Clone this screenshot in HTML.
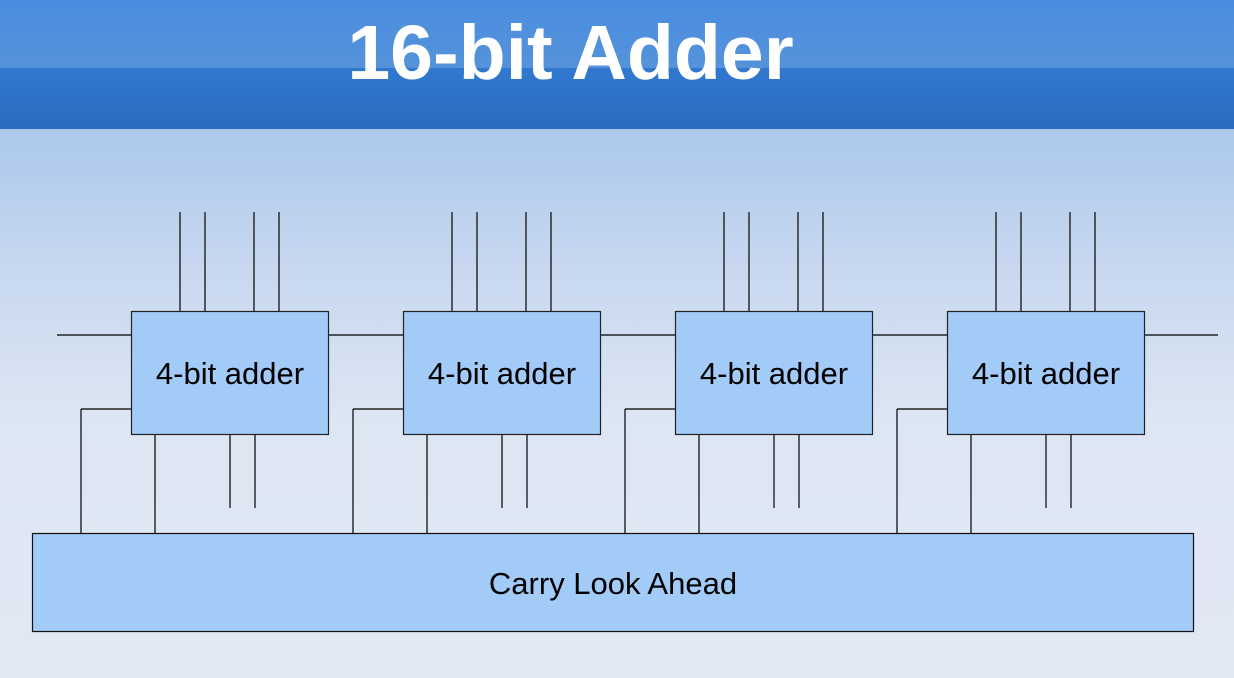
<!DOCTYPE html>
<html><head><meta charset="utf-8"><style>
html,body{margin:0;padding:0;width:1234px;height:678px;overflow:hidden}
body{background:linear-gradient(180deg,#abc8ec 129px,#c6d7ef 260px,#dde6f3 420px,#e1e8f4 678px);font-family:"Liberation Sans",sans-serif}
#hdr{position:absolute;left:0;top:0;width:1234px;height:129px}
#top{position:absolute;left:0;top:0;width:1234px;height:68px;background:linear-gradient(180deg,#4a8de0,#5592da)}
#bot{position:absolute;left:0;top:68px;width:1234px;height:61px;background:linear-gradient(180deg,#3079cf,#2a6bc0)}
#title{position:absolute;left:0;top:6px;width:1141px;text-align:center;color:#fff;font-weight:bold;font-size:77px;line-height:94px}
svg{position:absolute;left:0;top:0}
</style></head><body>
<div id="hdr">
<div id="top"></div>
<div id="bot"></div>
<div id="title">16-bit Adder</div>
</div>
<svg id="d" width="1234" height="678"></svg>
<script>
const blocks=["4-bit adder","4-bit adder","4-bit adder","4-bit adder"];
const NS="http://www.w3.org/2000/svg",svg=document.getElementById('d');
function el(t,a,name){const e=document.createElementNS(NS,t);for(const k in a)e.setAttribute(k,a[k]);


svg.appendChild(e);return e;}
function line(x1,y1,x2,y2,n){el('line',{x1,y1,x2,y2,stroke:'#000','stroke-width':1.2},n);}
el('rect',{x:32.5,y:533.5,width:1161,height:98,fill:'#a2cbf7',stroke:'#111','stroke-width':1.2},'carry-look-ahead-box');
const t=el('text',{x:613,y:594,'text-anchor':'middle','font-size':31,'font-family':'Liberation Sans, sans-serif',fill:'#000'},'carry-look-ahead-label');t.textContent='Carry Look Ahead';
line(57,335,131,335,'carry-in-wire');
blocks.forEach((b,i)=>{const x=131+272*i;
[49,74,123,148].forEach((o,j)=>line(x+o,212,x+o,311,'input-wire-'+(i+1)));
line(x+198,335,i<3?x+272:1218,335,'carry-wire-'+(i+1));
line(x,409,x-50,409,'cla-carry-wire-'+(i+1));line(x-50,409,x-50,533,'cla-carry-wire-'+(i+1));
line(x+24,434,x+24,533,'pg-wire-'+(i+1));
line(x+99,434,x+99,508,'sum-wire-'+(i+1));line(x+124,434,x+124,508,'sum-wire-'+(i+1));
el('rect',{x:x+0.5,y:311.5,width:197,height:123,fill:'#a2cbf7',stroke:'#222','stroke-width':1.2},'adder-box-'+(i+1));
const tt=el('text',{x:x+99,y:384,'text-anchor':'middle','font-size':31,'font-family':'Liberation Sans, sans-serif',fill:'#000'},'adder-label-'+(i+1));tt.textContent=b;
});
</script>
</body></html>
